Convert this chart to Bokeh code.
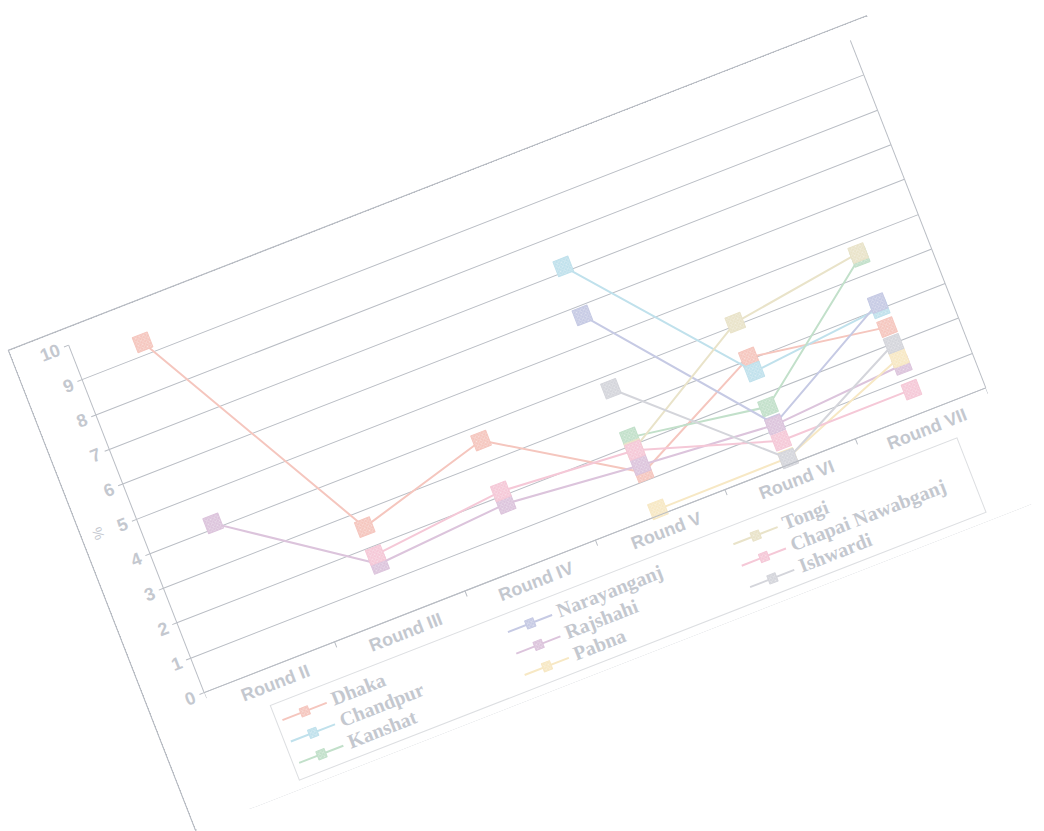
from bokeh.plotting import figure
from bokeh.models import Range1d, FixedTicker, Legend, LegendItem, LinearAxis, Title
from bokeh.embed import file_html
from bokeh.resources import INLINE

nan = float("nan")
rounds = ["Round II", "Round III", "Round IV", "Round V", "Round VI", "Round VII"]
y_ticks = list(range(0, 11))

dhaka = [9.35, 2.57, 3.60, 1.22, 3.07, 2.48]
chandpur = [nan, nan, nan, 7.15, 2.66, 3.02]
kanshat = [nan, nan, nan, 2.23, 1.65, 4.50]
narayanganj = [nan, nan, nan, 5.74, 1.15, 3.17]
rajshahi = [4.14, 1.51, 1.78, 1.43, 1.13, 1.39]
pabna = [nan, nan, nan, 0.16, 0.18, 1.60]
tongi = [nan, nan, nan, 1.90, 4.07, 4.61]
chapai = [nan, 1.77, 2.14, 1.86, 0.67, 0.68]
ishwardi = [nan, nan, nan, 3.63, 0.16, 2.00]

series_names = ["Dhaka", "Chandpur", "Kanshat", "Narayanganj", "Rajshahi",
                "Pabna", "Tongi", "Chapai Nawabganj", "Ishwardi"]
series_values = [dhaka, chandpur, kanshat, narayanganj, rajshahi,
                 pabna, tongi, chapai, ishwardi]
series_colors = ["#f5c6be", "#c0e1ec", "#c2e0ca", "#c6cae4", "#dcc4dc",
                 "#f7e8c4", "#e9e3c9", "#f5c8d7", "#d4d5db"]

GRAY = "#b9bdc4"
TEXT = "#c4c8cf"

xs = [i + 0.5 for i in range(len(rounds))]

# frame: plot area (0..10) occupies the top 373 px, the legend sits below it
FRAME_W, PLOT_H, FRAME_H = 839, 373, 498
y_lo = -10.0 * (FRAME_H - PLOT_H) / PLOT_H

p = figure(frame_width=FRAME_W, frame_height=FRAME_H,
           x_range=Range1d(0, len(rounds)), y_range=Range1d(y_lo, 10),
           x_axis_location=None,
           output_backend="svg", toolbar_location=None,
           min_border_left=57, min_border_right=24,
           min_border_top=16, min_border_bottom=0)
p.background_fill_color = "white"
p.border_fill_color = "white"
p.outline_line_color = None

p.xgrid.visible = False
p.ygrid.ticker = FixedTicker(ticks=y_ticks)
p.ygrid.grid_line_color = GRAY
p.ygrid.grid_line_width = 1

xa = LinearAxis(fixed_location=0, bounds=(0, len(rounds)))
xa.ticker = FixedTicker(ticks=xs, minor_ticks=list(range(0, len(rounds) + 1)))
xa.major_label_overrides = {x: r for x, r in zip(xs, rounds)}
xa.major_tick_out = 0
xa.major_tick_in = 0
xa.minor_tick_out = 6
xa.minor_tick_in = 0
xa.minor_tick_line_color = GRAY
xa.axis_line_color = GRAY
xa.major_label_text_font = "Liberation Sans"
xa.major_label_text_font_style = "bold"
xa.major_label_text_font_size = "18px"
xa.major_label_text_color = TEXT
xa.major_label_standoff = 1
p.add_layout(xa, "below")

ya = p.yaxis[0]
ya.bounds = (0, 10)
ya.ticker = FixedTicker(ticks=y_ticks)
ya.major_tick_out = 5
ya.major_tick_in = 0
ya.minor_tick_out = 0
ya.minor_tick_in = 0
ya.major_tick_line_color = GRAY
ya.axis_line_color = GRAY
ya.major_label_text_font = "Liberation Sans"
ya.major_label_text_font_style = "bold"
ya.major_label_text_font_size = "18px"
ya.major_label_text_color = TEXT
ya.major_label_standoff = 5

# "%" axis title, centred on the 0..10 part of the axis
ylab = Title(text="%", align="right", offset=180, standoff=0,
             text_font="Liberation Sans", text_font_size="14px",
             text_font_style="normal", text_color=TEXT)
p.add_layout(ylab, "left")

# right edge of the plot area
ra = LinearAxis(bounds=(0, 10), ticker=FixedTicker(ticks=[]))
ra.axis_line_color = GRAY
ra.major_tick_out = 0
ra.major_tick_in = 0
ra.minor_tick_out = 0
ra.minor_tick_in = 0
p.add_layout(ra, "right")

items = []
for name, vals, col in zip(series_names, series_values, series_colors):
    lr = p.line(xs, vals, line_color=col, line_width=2)
    sr = p.scatter(xs, vals, marker="square", size=16,
                   fill_color=col, line_color=col,
                   hatch_pattern="diagonal_cross", hatch_color="white",
                   hatch_alpha=0.3, hatch_scale=4, hatch_weight=1)
    items.append(LegendItem(label=name, renderers=[lr, sr]))

legend = Legend(items=items, location=(57, 8), orientation="vertical",
                nrows=3)
legend.border_line_color = GRAY
legend.border_line_width = 1
legend.background_fill_color = "white"
legend.padding = 5
legend.spacing = 0
legend.margin = 0
legend.glyph_width = 48
legend.glyph_height = 22
legend.label_standoff = 6
legend.label_width = 188
legend.label_height = 22
legend.label_text_font = "Liberation Serif"
legend.label_text_font_style = "bold"
legend.label_text_font_size = "20px"
legend.label_text_color = TEXT
p.add_layout(legend, "center")

p.styles = {"position": "absolute", "left": "71px", "top": "166px",
            "transform": "rotate(-21.3deg)", "transform-origin": "50% 50%",
            "outline": "1px solid " + GRAY,
            "box-shadow": "0 0 0 1px " + GRAY}

html = file_html(p, INLINE)
html = html.replace("</head>",
                    "<style>html,body{margin:0;padding:0;overflow:hidden;background:#fff}</style></head>", 1)
open("out.html", "w").write(html)
